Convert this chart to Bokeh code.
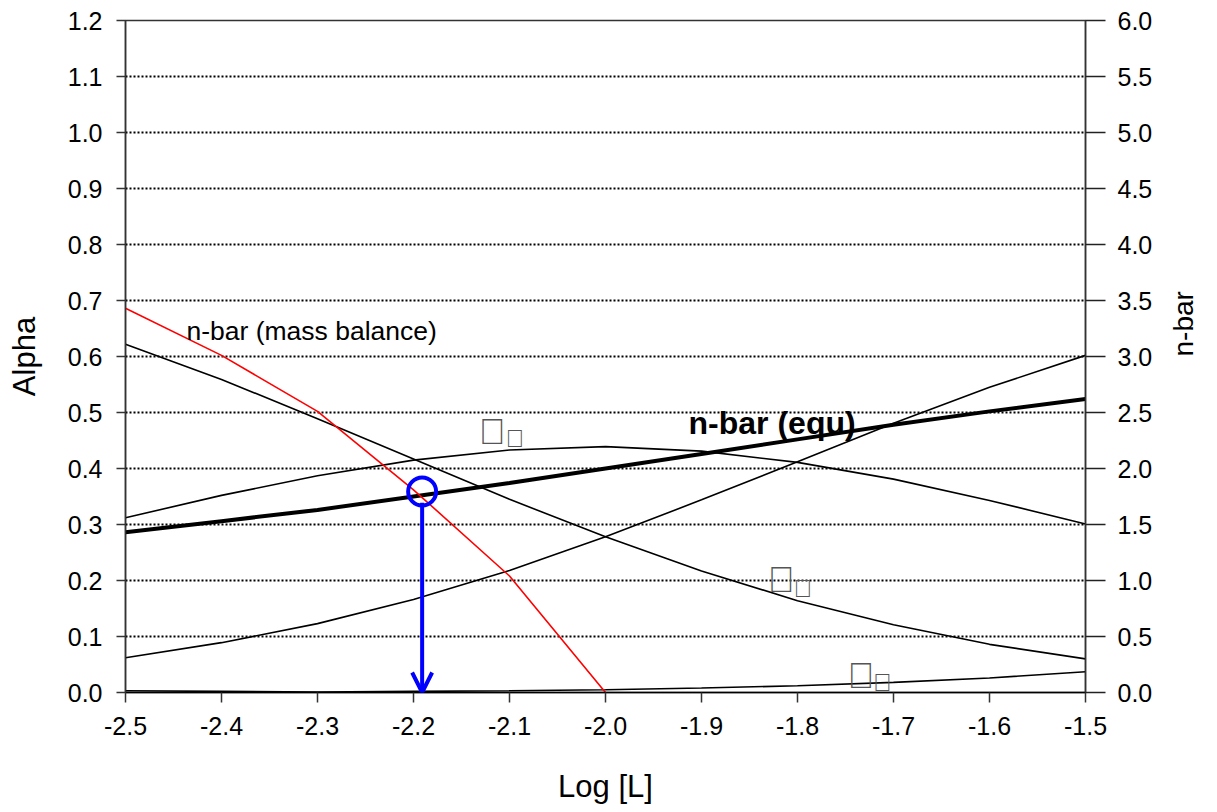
import math
from bokeh.plotting import figure
from bokeh.models import Range1d, LinearAxis, FixedTicker, PrintfTickFormatter, Arrow, OpenHead
from bokeh.embed import file_html
from bokeh.resources import INLINE
from bokeh.core.properties import value

# ---- data ----
log_L = [-2.5, -2.4, -2.3, -2.2, -2.1, -2.0, -1.9, -1.8, -1.7, -1.6, -1.5]
alpha0 = [0.622, 0.559, 0.489, 0.417, 0.345, 0.278, 0.217, 0.164, 0.121, 0.086, 0.060]
alpha1 = [0.312, 0.352, 0.387, 0.415, 0.433, 0.439, 0.431, 0.411, 0.381, 0.343, 0.301]
alpha2 = [0.062, 0.089, 0.123, 0.166, 0.218, 0.278, 0.344, 0.412, 0.481, 0.545, 0.602]
alpha3 = [0.003, 0.002, 0.001, 0.002, 0.003, 0.005, 0.008, 0.012, 0.018, 0.026, 0.037]
nbar_equ = [1.43, 1.53, 1.63, 1.75, 1.87, 2.00, 2.13, 2.26, 2.39, 2.51, 2.62]
mb_log_L = [-2.5, -2.4, -2.3, -2.2, -2.1, -2.0]
nbar_mass_balance = [3.43, 3.01, 2.51, 1.81, 1.04, 0.0]

marker_x = [-2.191]
marker_y = [0.359]
arrow_top = 0.339

alpha_ticks = [0.0, 0.1, 0.2, 0.3, 0.4, 0.5, 0.6, 0.7, 0.8, 0.9, 1.0, 1.1, 1.2]
nbar_ticks = [0.0, 0.5, 1.0, 1.5, 2.0, 2.5, 3.0, 3.5, 4.0, 4.5, 5.0, 5.5, 6.0]
x_ticks = log_L

# species labels: Symbol-font alpha with subscript (shown as missing glyphs)
species_text = ["\uf061", "\uf061", "\uf061"]
species_sub = ["\uf031", "\uf030", "\uf033"]
species_x = [-2.132, -1.831, -1.748]
species_y = [0.466, 0.202, 0.030]
sub_x = [-2.104, -1.804, -1.721]
sub_y = [0.455, 0.1875, 0.018]

FONT = "Liberation Sans"

p = figure(width=1217, height=809,
           x_range=Range1d(-2.5, -1.5), y_range=Range1d(0, 1.2),
           output_backend="svg", toolbar_location=None,
           min_border_left=125, min_border_right=132,
           min_border_top=20, min_border_bottom=117)
p.background_fill_color = "white"
p.border_fill_color = "white"
p.outline_line_color = "#333333"
p.outline_line_width = 1.5

p.extra_y_ranges = {"nbar": Range1d(0, 6)}

# grid
p.xgrid.visible = False
p.ygrid.ticker = FixedTicker(ticks=alpha_ticks)
p.ygrid.grid_line_color = "black"
p.ygrid.grid_line_dash = "2 2"
p.ygrid.grid_line_width = 2

def style_axis(ax, tick_out):
    ax.major_label_text_font = FONT
    ax.major_label_text_font_size = "25px"
    ax.major_label_text_color = "black"
    ax.axis_label_text_font = FONT
    ax.axis_label_text_font_size = "31px"
    ax.axis_label_text_font_style = "normal"
    ax.axis_label_text_color = "black"
    ax.axis_line_color = "#333333"
    ax.axis_line_width = 1.5
    ax.major_tick_line_color = "#333333"
    ax.major_tick_line_width = 1.5
    ax.major_tick_out = tick_out
    ax.major_tick_in = 0
    ax.minor_tick_line_color = None
    ax.formatter = PrintfTickFormatter(format="%.1f")

xa = p.xaxis[0]
style_axis(xa, 10)
xa.ticker = FixedTicker(ticks=x_ticks)
xa.axis_label = "Log [L]"
xa.major_label_standoff = 14
xa.axis_label_standoff = 31
xa.axis_line_color = "black"

ya = p.yaxis[0]
style_axis(ya, 9)
ya.ticker = FixedTicker(ticks=alpha_ticks)
ya.axis_label = "Alpha"
ya.major_label_standoff = 14
ya.axis_label_standoff = 23

ra = LinearAxis(y_range_name="nbar", axis_label="n-bar")
style_axis(ra, 20)
ra.major_tick_line_color = "#222222"
ra.ticker = FixedTicker(ticks=nbar_ticks)
ra.major_label_standoff = 12
ra.axis_label_standoff = 28
ra.axis_label_text_font_size = "28px"
if "axis_label_orientation" in ra.properties():
    ra.axis_label_orientation = math.pi / 2
p.add_layout(ra, "right")

# alpha curves
for series in (alpha0, alpha1, alpha2, alpha3):
    p.line(log_L, series, line_color="black", line_width=1.6)

# n-bar curves (right axis)
p.line(log_L, nbar_equ, line_color="black", line_width=4, y_range_name="nbar")
p.line(mb_log_L, nbar_mass_balance, line_color="#ff0000", line_width=1.6, y_range_name="nbar")

# marker circle and arrow
p.scatter(marker_x, marker_y, size=28, marker="circle", fill_color=None,
          line_color="#0000ff", line_width=4)
p.add_layout(Arrow(end=OpenHead(size=20, line_color="#0000ff", line_width=4),
                   x_start=marker_x[0], y_start=arrow_top,
                   x_end=marker_x[0], y_end=0.0,
                   line_color="#0000ff", line_width=4))

# annotations
p.text(x=[-2.4365], y=[0.645], text=["n-bar (mass balance)"],
       text_font=value(FONT), text_font_size="26.5px", text_color="black",
       text_baseline="alphabetic", text_align="left")
p.text(x=[-1.9135], y=[0.482], text=["n-bar (equ)"],
       text_font=value(FONT), text_font_size="32px", text_font_style="bold",
       text_color="black", text_baseline="alphabetic", text_align="left")

p.text(x=species_x, y=species_y, text=species_text, text_font=value(FONT),
       text_font_size="36px", text_color="#555555",
       text_baseline="alphabetic", text_align="left")
p.text(x=sub_x, y=sub_y, text=species_sub, text_font=value(FONT),
       text_font_size="25px", text_color="#555555",
       text_baseline="alphabetic", text_align="left")

open("out.html", "w").write(file_html(p, INLINE))
